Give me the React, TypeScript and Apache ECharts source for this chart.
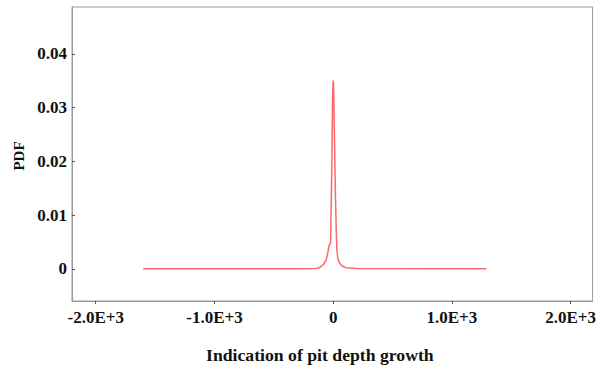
import React, { useEffect, useRef } from "react";
import * as echarts from "echarts";

const xValues = [-1600, -300, -150, -116, -80, -58, -45, -36, -22, -12, -5, 0, 3, 8, 14, 19, 25, 31, 40, 52, 75, 108, 200, 1290];
const yValues = [0, 0, 0.00005, 0.0002, 0.0008, 0.0017, 0.003, 0.0042, 0.0048, 0.018, 0.032, 0.035, 0.0345, 0.028, 0.02, 0.014, 0.008, 0.0035, 0.0018, 0.0011, 0.0005, 0.0002, 0.00005, 0];
const xTicks = [-2000, -1000, 0, 1000, 2000];
const yTicks = [0, 0.01, 0.02, 0.03, 0.04];
const xTitle = "Indication of pit depth growth";
const yTitle = "PDF";

const FONT = "'Liberation Serif', 'Times New Roman', serif";

export default function App() {
  const ref = useRef<HTMLDivElement>(null);
  useEffect(() => {
    if (!ref.current) return;
    const chart = echarts.init(ref.current, null, { renderer: "svg" });
    const axisColor = "#9a9a9a";
    chart.setOption({
      animation: false,
      backgroundColor: "#ffffff",
      grid: { left: 72, right: 1, top: 7, bottom: 69, show: true, borderColor: axisColor, borderWidth: 1 },
      xAxis: {
        type: "value",
        min: -2200,
        max: 2185,
        splitLine: { show: false },
        axisLine: { show: true, onZero: false, lineStyle: { color: axisColor } },
        axisTick: { show: true, length: 3, inside: false, customValues: xTicks, lineStyle: { color: "#555" } },
        axisLabel: {
          customValues: xTicks,
          margin: 8,
          color: "#111",
          fontFamily: FONT,
          fontWeight: "bold",
          fontSize: 17,
          formatter: (v: number) => (v === 0 ? "0" : (v / 1000).toFixed(1) + "E+3"),
        },
      },
      yAxis: {
        type: "value",
        min: -0.006,
        max: 0.0487,
        splitLine: { show: false },
        axisLine: { show: true, onZero: false, lineStyle: { color: axisColor } },
        axisTick: { show: true, length: 3, inside: true, customValues: yTicks, lineStyle: { color: "#555" } },
        axisLabel: {
          customValues: yTicks,
          margin: 5,
          color: "#111",
          fontFamily: FONT,
          fontWeight: "bold",
          fontSize: 17,
          formatter: (v: number) => (v === 0 ? "0" : v.toFixed(2)),
        },
      },
      graphic: [
        {
          type: "text",
          left: 206,
          top: 346,
          style: { text: xTitle, fill: "#111", font: `bold 17.7px ${FONT}` },
        },
        {
          type: "text",
          x: 19,
          y: 156,
          rotation: Math.PI / 2,
          style: { text: yTitle, fill: "#111", font: `bold 15px ${FONT}`, align: "center", verticalAlign: "middle" },
        },
      ],
      series: [
        {
          type: "line",
          data: xValues.map((x, i) => [x, yValues[i]]),
          showSymbol: false,
          smooth: false,
          lineStyle: { color: "#ff6868", width: 1.5 },
        },
      ],
    });
    return () => chart.dispose();
  }, []);
  return <div ref={ref} style={{ position: "fixed", left: 0, top: 0, width: 599, height: 370 }} />;
}
